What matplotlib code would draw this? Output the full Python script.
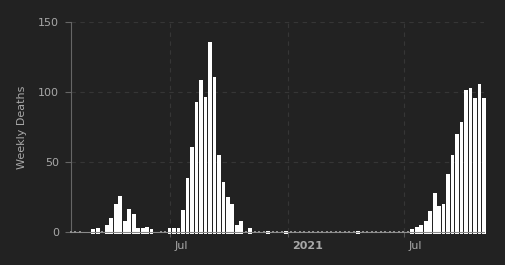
import numpy as np
import pandas as pd
import matplotlib
matplotlib.use("Agg")
import matplotlib.pyplot as plt
import matplotlib.transforms as mtransforms

# weekly deaths, one value per week (nan = no report)
week_start = "2020-01-28"
deaths = [
    0, 0, 0, np.nan, np.nan, 2, 3, 0, 5, 10,
    20, 26, 8, 17, 13, 3, 3, 4, 2, np.nan,
    0, 0, 3, 3, 3, 16, 39, 61, 93, 109,
    97, 136, 111, 55, 36, 25, 20, 5, 8, 0,
    3, 0, 0, 0, 1, 0, 0, 0, 1, 0,
    0, 0, 0, 0, 0, 0, 0, 0, 0, 0,
    0, 0, 0, 0, 1, 0, 0, 0, 0, 0,
    0, 0, 0, 0, 0, 0, 2, 4, 5, 8,
    15, 28, 19, 20, 42, 55, 70, 79, 102, 103,
    96, 106, 96,
]
tick_dates = ["2020-07-01", "2021-01-01", "2021-07-01"]
tick_labels = ["Jul", "2021", "Jul"]
y_ticks = [0, 50, 100, 150]

BG = "#222222"
TXT = "#a8a8a8"

dates = pd.date_range(week_start, periods=len(deaths), freq="7D")
vals = np.array(deaths, dtype=float)

fig = plt.figure(figsize=(5.05, 2.65), dpi=100, facecolor=BG)
ax = fig.add_axes([0.140, 0.1234, 0.8184, 0.7924], facecolor=BG)

nz = np.nan_to_num(vals) > 0
base = -1.2
ax.bar(dates[nz], vals[nz] - base, bottom=base, width=6, color="white",
       linewidth=0, zorder=1, clip_on=False)
zero = vals == 0
ax.plot(dates[zero], vals[zero], ls="none", marker="s", ms=1.9, color="#909090",
        mew=0, zorder=3, clip_on=False)

ax.set_xlim(dates[0], dates[-1])
ax.set_ylim(0, 150)
ax.set_yticks(y_ticks)
ax.set_xticks(pd.to_datetime(tick_dates))
ax.set_xticklabels(tick_labels)

ax.grid(True, color="#363636", lw=0.8, ls=(0, (4, 4)))
ax.set_axisbelow(True)
for s in ["top", "right"]:
    ax.spines[s].set_visible(False)
ax.spines["left"].set_color("#666666")
ax.spines["bottom"].set_color("#8a8a8a")
ax.spines["left"].set_linewidth(0.8)
ax.spines["bottom"].set_linewidth(0.8)
ax.spines["bottom"].set_zorder(2.5)

ax.tick_params(axis="y", length=4.3, width=0.8, color="#666666", labelcolor=TXT,
               labelsize=8, pad=4.2)
ax.tick_params(axis="x", length=3.5, width=0.8, color="#555555", labelcolor=TXT,
               labelsize=8, pad=3)

offset = mtransforms.ScaledTranslation(3 / 72, 0, fig.dpi_scale_trans)
for lab in ax.get_xticklabels():
    lab.set_horizontalalignment("left")
    lab.set_transform(lab.get_transform() + offset)
    if lab.get_text() == "2021":
        lab.set_fontweight("bold")

ax.set_ylabel("Weekly Deaths", color=TXT, fontsize=8, labelpad=7.5)

fig.savefig("out.png", dpi=100, facecolor=BG)
